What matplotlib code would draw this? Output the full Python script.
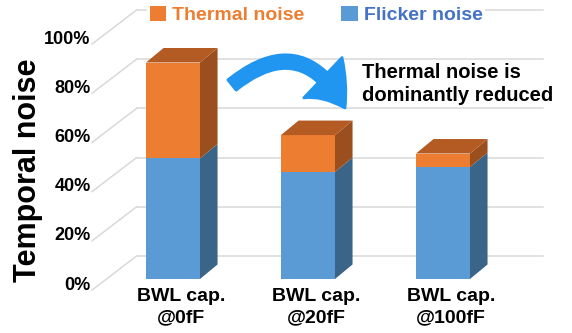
import matplotlib
matplotlib.use("Agg")
import matplotlib.pyplot as plt
from matplotlib.patches import Polygon, FancyArrowPatch, ArrowStyle

plt.rcParams['font.family'] = ['Liberation Sans', 'DejaVu Sans']
plt.rcParams['font.weight'] = 'bold'

# data
categories = ["BWL cap.\n@0fF", "BWL cap.\n@20fF", "BWL cap.\n@100fF"]
flicker = [49.0, 43.5, 45.5]
thermal = [39.0, 15.0, 5.5]
yticks = [0, 20, 40, 60, 80, 100]
ytick_labels = ["0%", "20%", "40%", "60%", "80%", "100%"]

# colours
c_orange, c_orange_top, c_orange_side = "#ED7D31", "#B45A23", "#9B4E1E"
c_blue, c_blue_side = "#5B9BD5", "#3A6488"
c_grid = "#D9D9D9"

# fake 3d geometry (data units)
bar_w = 0.4
bar_dx, bar_dy = 0.13, 5.9          # depth of a bar
wall_x0, wall_x1, wall_lift = -0.27, 2.74, 9.35
floor_x, floor_drop = -0.60, -4.5

fig = plt.figure(figsize=(5.72, 3.33), dpi=100)
ax = fig.add_axes([0, 0, 1, 1])
ax.set_xlim(-1.2815, 2.9556)
ax.set_ylim(-21.95, 113.41)
ax.axis("off")

# back wall gridlines + left side diagonals
for v, lab in zip(yticks, ytick_labels):
    ax.plot([wall_x0, wall_x1], [v + wall_lift] * 2, color=c_grid, lw=1.1, zorder=1)
    ax.plot([floor_x, wall_x0], [v + floor_drop, v + wall_lift], color=c_grid, lw=1.1, zorder=1)
    ax.text(floor_x - 0.01, v - 2.5, lab, ha="right", va="center", fontsize=13)

x = list(range(len(categories)))
b_flk = ax.bar(x, flicker, width=bar_w, color=c_blue, zorder=2, label="Flicker noise")
b_thm = ax.bar(x, thermal, width=bar_w, bottom=flicker, color=c_orange, zorder=2,
               label="Thermal noise")

for xi, f, t in zip(x, flicker, thermal):
    xl, xr = xi - bar_w / 2, xi + bar_w / 2
    top = f + t
    ax.add_patch(Polygon([(xr, 0), (xr + bar_dx, bar_dy), (xr + bar_dx, f + bar_dy), (xr, f)],
                         closed=True, color=c_blue_side, lw=0, zorder=2))
    ax.add_patch(Polygon([(xr, f), (xr + bar_dx, f + bar_dy), (xr + bar_dx, top + bar_dy), (xr, top)],
                         closed=True, color=c_orange_side, lw=0, zorder=2))
    ax.add_patch(Polygon([(xl, top), (xr, top), (xr + bar_dx, top + bar_dy), (xl + bar_dx, top + bar_dy)],
                         closed=True, color=c_orange_top, lw=0, zorder=2))

for xi, lab in zip(x, categories):
    ax.text(xi + 0.06, -3.6, lab, ha="center", va="top", fontsize=14, linespacing=1.3)

ax.text(28 / 572, 0.49, "Temporal noise", transform=fig.transFigure, rotation=90,
        ha="center", va="center", fontsize=22)

leg = ax.legend(handles=[b_thm, b_flk], ncol=2, loc="center",
                bbox_to_anchor=(316 / 572, 1 - 15 / 333), bbox_transform=fig.transFigure,
                fontsize=14, frameon=True, facecolor="white", edgecolor="none", framealpha=1,
                handlelength=0.85, handleheight=0.8, handletextpad=0.3, columnspacing=1.9,
                borderpad=0.15, labelcolor="linecolor")
leg.get_texts()[1].set_color("#4472C4")

# curved arrow + note
arrow = FancyArrowPatch((232 / 572, 1 - 85 / 333), (345 / 572, 1 - 108 / 333),
                        transform=fig.transFigure, connectionstyle="arc3,rad=-0.6",
                        arrowstyle=ArrowStyle.Simple(head_length=2.7, head_width=4.0, tail_width=0.95),
                        mutation_scale=10, shrinkA=0, shrinkB=0,
                        color="#2196F0", lw=2, joinstyle="round", zorder=5)
fig.patches.append(arrow)

ax.text(362 / 572, 1 - 84 / 333, "Thermal noise is\ndominantly reduced", transform=fig.transFigure,
        ha="left", va="center", fontsize=14.5, linespacing=1.3)

fig.savefig("out.png", dpi=100)
